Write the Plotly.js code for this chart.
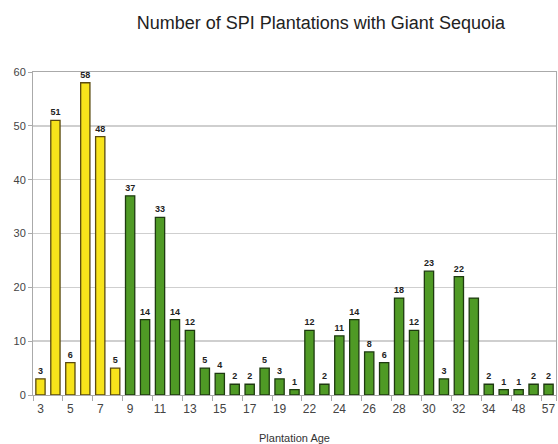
<!DOCTYPE html>
<html>
<head>
<meta charset="utf-8">
<script src="https://cdn.plot.ly/plotly-3.0.1.min.js"></script>
<style>html,body{margin:0;padding:0;background:#fff;}#chart{width:558px;height:444px;}</style>
</head>
<body>
<div id="chart"></div>
<script>
// Plantation ages (one bar each); some ages between labelled ticks are estimates
const ages = ["3","4","5","6","7","8","9","10","11","12","13","14","15","16","17","18","19","21",
  "22","23","24","25","26","27","28","29","30","31","32","33","34","40","48","52","57"];
const counts = [3,51,6,58,48,5,37,14,33,14,12,5,4,2,2,5,3,1,
  12,2,11,14,8,6,18,12,23,3,22,18,2,1,1,2,2];
const labelShown = [1,1,1,1,1,1,1,1,1,1,1,1,1,1,1,1,1,1,
  1,1,1,1,1,1,1,1,1,1,1,0,1,1,1,1,1];
const yellowAges = ["3","4","5","6","7","8"];
const tickLabels = ["3","5","7","9","11","13","15","17","19","22","24","26","28","30","32","34","48","57"];

const colors = ages.map(a => yellowAges.includes(a) ? "#f7e31b" : "#4f9a25");
const lineColors = ages.map(a => yellowAges.includes(a) ? "#5a4a10" : "#1e3a10");
const texts = counts.map((v,i) => labelShown[i] ? String(v) : "");

const trace = {
  type: "bar",
  x: ages,
  y: counts,
  text: texts,
  textposition: "outside",
  cliponaxis: false,
  constraintext: "none",
  textfont: {family: "Liberation Sans, Arial, sans-serif", size: 9, color: "#222", weight: "bold"},
  marker: {color: colors, line: {color: lineColors, width: 1.3}},
  width: 0.62,
  hoverinfo: "x+y"
};

const layout = {
  width: 558, height: 444,
  margin: {l: 33, r: 2, t: 72, b: 49},
  paper_bgcolor: "#fff", plot_bgcolor: "#fff",
  showlegend: false,
  font: {family: "Liberation Sans, Arial, sans-serif", color: "#444"},
  title: {
    text: "Number of SPI Plantations with Giant Sequoia",
    font: {family: "Liberation Sans Narrow, Arial Narrow, Liberation Sans, Arial, sans-serif", size: 18, color: "#222"},
    x: 0.575, xanchor: "center", y: 0.95, yanchor: "middle"
  },
  xaxis: {
    type: "category",
    tickvals: tickLabels,
    ticktext: tickLabels,
    tickangle: 0,
    tickson: "boundaries",
    ticks: "outside", ticklen: 5, tickcolor: "#aaa",
    ticklabelstandoff: 3,
    showgrid: false,
    showline: true, linecolor: "#aaa", mirror: true, linewidth: 1,
    tickfont: {size: 12, color: "#444"},
    title: {text: "Plantation Age", font: {size: 11, color: "#333"}, standoff: 20},
    automargin: false
  },
  yaxis: {
    range: [0, 60],
    dtick: 10,
    ticks: "outside", ticklen: 4, tickcolor: "#aaa",
    showgrid: true, gridcolor: "#cfcfcf", gridwidth: 1.5,
    showline: true, linecolor: "#aaa", mirror: true, linewidth: 1,
    zeroline: false,
    tickfont: {size: 11, color: "#444"},
    automargin: false
  },
  bargap: 0.38
};

Plotly.newPlot("chart", [trace], layout, {displayModeBar: false, staticPlot: true});
</script>
</body>
</html>
